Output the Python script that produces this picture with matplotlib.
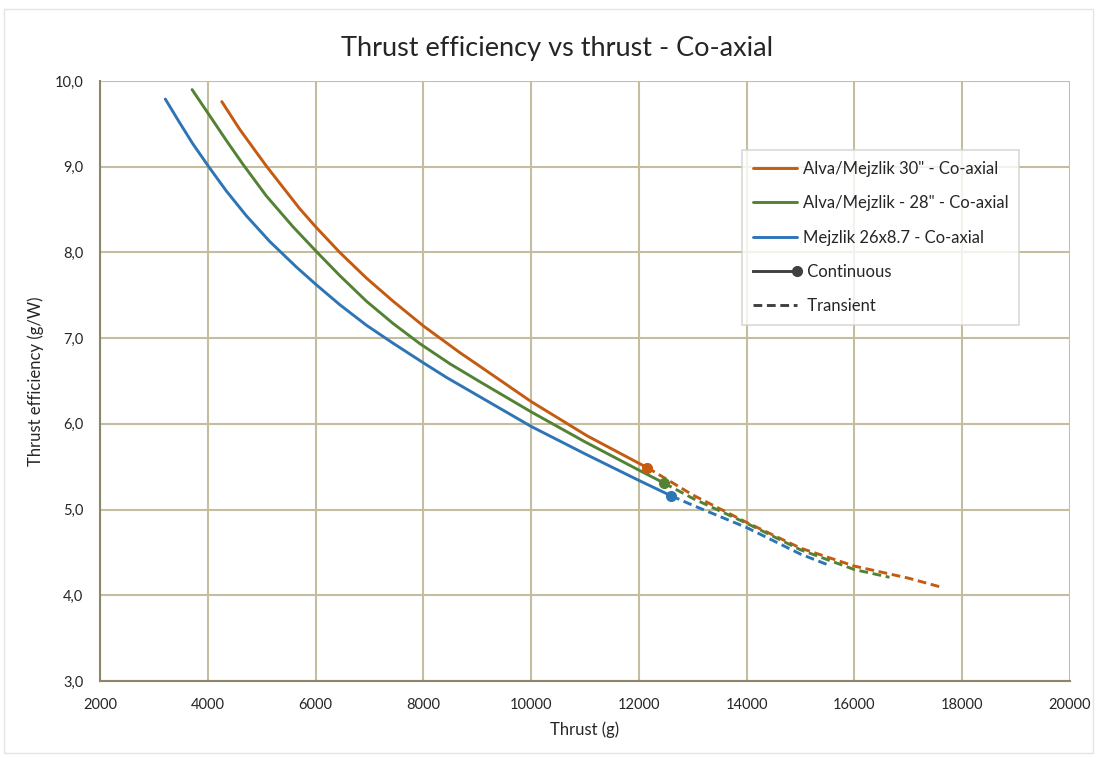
import matplotlib
matplotlib.use('Agg')
import matplotlib.pyplot as plt
from matplotlib.lines import Line2D
from matplotlib.legend_handler import HandlerLine2D
from matplotlib.patches import Rectangle
from matplotlib.ticker import FuncFormatter

plt.rcParams['font.family'] = ['Lato', 'DejaVu Sans']

# Alva/Mejzlik 30" - Co-axial (continuous, then transient)
orange_x = [4259, 4588, 4899, 5096, 5457, 5706, 6000, 6449, 6945, 7440, 8005, 8680,
            9053, 10000, 11040, 12000, 12154]
orange_y = [9.76, 9.44, 9.17, 9.00, 8.71, 8.51, 8.30, 8.00, 7.70, 7.43, 7.14, 6.83,
            6.67, 6.26, 5.86, 5.54, 5.49]
orange_tx = [12154, 13000, 14000, 15000, 16000, 17000, 17580]
orange_ty = [5.49, 5.17, 4.85, 4.55, 4.34, 4.20, 4.10]

# Alva/Mejzlik - 28" - Co-axial
green_x = [3708, 4030, 4340, 4650, 5085, 5580, 6000, 6449, 6945, 7440, 7937, 8495,
           9053, 10000, 11000, 12000, 12464]
green_y = [9.90, 9.60, 9.31, 9.03, 8.66, 8.30, 8.02, 7.73, 7.43, 7.17, 6.935, 6.70,
           6.49, 6.14, 5.79, 5.46, 5.31]
green_tx = [12464, 13000, 14000, 15000, 16000, 16650]
green_ty = [5.31, 5.13, 4.84, 4.53, 4.30, 4.21]

# Mejzlik 26x8.7 - Co-axial
blue_x = [3211, 3471, 3719, 4017, 4340, 4712, 5146, 5643, 6000, 6449, 6945, 7440, 8005,
          8434, 10000, 11000, 12000, 12600]
blue_y = [9.79, 9.52, 9.27, 9.00, 8.72, 8.43, 8.13, 7.83, 7.63, 7.39, 7.15, 6.94, 6.71,
          6.54, 5.97, 5.65, 5.34, 5.16]
blue_tx = [12600, 13000, 14000, 15000, 15530]
blue_ty = [5.16, 5.05, 4.79, 4.48, 4.35]

labels = ['Alva/Mejzlik 30" - Co-axial', 'Alva/Mejzlik - 28" - Co-axial', 'Mejzlik 26x8.7 - Co-axial']
colors = ['#c55a11', '#548235', '#2e75b6']
grid_c = '#c4bd9e'
axis_c = '#8c866a'
txt_c = '#262626'
dash = (0, (3, 1.6))


class EndMarker(HandlerLine2D):
    # legend marker at the right end of the line, not the middle
    def create_artists(self, legend, orig_handle, xdescent, ydescent, width, height, fontsize, trans):
        arts = super().create_artists(legend, orig_handle, xdescent, ydescent, width, height, fontsize, trans)
        for a in arts:
            a.set_markevery([len(a.get_xdata()) - 1])
        return arts


fig = plt.figure(figsize=(10.97, 7.58), dpi=100)
fig.patches.append(Rectangle((0.004, 0.006), 0.992, 0.982, transform=fig.transFigure,
                             fill=False, ec='#e4e4e4', lw=1))
ax = fig.add_axes([0.0912, 0.1016, 0.8842, 0.7915])

series = [(orange_x, orange_y, orange_tx, orange_ty),
          (green_x, green_y, green_tx, green_ty),
          (blue_x, blue_y, blue_tx, blue_ty)]
handles = []
for (x, y, tx, ty), c in zip(series, colors):
    h, = ax.plot(x, y, color=c, lw=2.1, solid_capstyle='round', solid_joinstyle='round', zorder=3)
    ax.plot(tx, ty, color=c, lw=2.1, ls=dash, zorder=3)
    ax.plot(x[-1], y[-1], 'o', color=c, ms=7, zorder=4)
    handles.append(h)

cont = Line2D([], [], color='#404040', lw=2.1, marker='o', ms=7)
trans = Line2D([], [], color='#404040', lw=2.1, ls=dash)
handles += [cont, trans]

ax.set_xlim(2000, 20000)
ax.set_ylim(3, 10)
ax.set_xticks(range(2000, 20001, 2000))
ax.set_yticks([3, 4, 5, 6, 7, 8, 9, 10])
ax.yaxis.set_major_formatter(FuncFormatter(lambda v, p: ('%.1f' % v).replace('.', ',')))
ax.grid(True, color=grid_c, lw=1.5, zorder=0)
ax.tick_params(length=0, labelsize=10.5, colors=txt_c, pad=12)
for s in ['top', 'right']:
    ax.spines[s].set_visible(False)
for s in ['left', 'bottom']:
    ax.spines[s].set_color(axis_c)
    ax.spines[s].set_linewidth(1.5)

ax.set_xlabel('Thrust (g)', fontsize=12, color=txt_c, labelpad=7)
ax.set_ylabel('Thrust efficiency (g/W)', fontsize=12, color=txt_c, labelpad=8)
fig.text(0.508, 0.936, 'Thrust efficiency vs thrust - Co-axial', ha='center', va='center',
         fontsize=19.5, color=txt_c)

leg = ax.legend(handles, labels + [' Continuous', ' Transient'], loc='upper left',
                bbox_to_anchor=(0.662, 0.885), borderaxespad=0, fontsize=12, frameon=True,
                fancybox=False, edgecolor='#d0d0d0', handlelength=2.65, handletextpad=0.35,
                labelspacing=1.1, borderpad=0.65, handler_map={cont: EndMarker()})
leg.get_frame().set_linewidth(1.2)
for t in leg.get_texts():
    t.set_color(txt_c)

fig.savefig('out.png', dpi=100)
